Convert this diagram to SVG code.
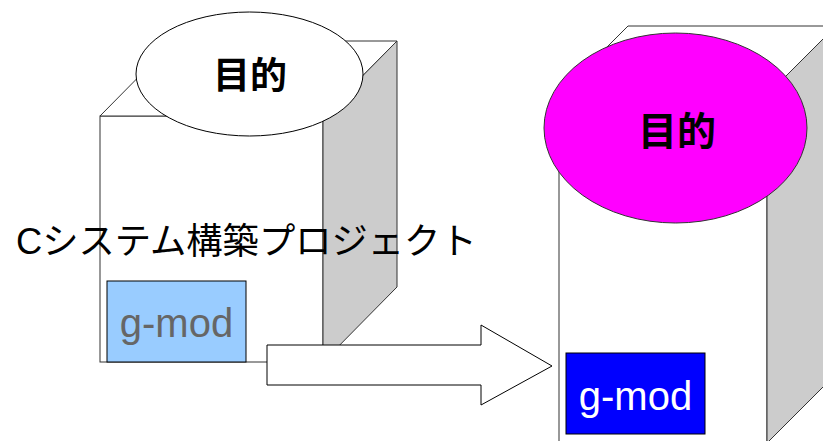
<svg xmlns="http://www.w3.org/2000/svg" width="823" height="441" viewBox="0 0 823 441">
<style>
.edge{stroke:#333;stroke-width:1;stroke-linejoin:miter}
.front{fill:#fff}
.side{fill:#ccc}
.top{fill:#fff}
.jp{font-family:"Liberation Sans","Noto Sans CJK JP",sans-serif;fill:#000}
.goal{font-weight:bold;text-anchor:middle}
.lbl{font-family:"Liberation Sans",Arial,sans-serif;font-size:40px;text-anchor:middle}
</style>
<rect width="823" height="441" fill="#fff"/>
<g id="cube-left">
<rect class="front edge" x="100" y="116" width="223" height="246"/>
<polygon class="top edge" points="100,116 174,41 397,41 323,116"/>
<polygon class="side edge" points="323,116 397,41 397,287 323,362"/>
</g>
<g id="cube-right">
<rect class="front edge" x="559" y="95" width="208" height="360"/>
<polygon class="top edge" points="559,95 628,26 850,26 767,95"/>
<polygon class="side edge" points="767,95 836,26 836,374 767,443"/>
</g>
<g id="goal-left">
<ellipse cx="249.5" cy="74" rx="113.5" ry="62" fill="#fff" stroke="#000" stroke-width="1"/>
<text class="jp goal" x="250" y="89" font-size="37">目的</text>
</g>
<g id="goal-right">
<ellipse cx="675.5" cy="128" rx="131.5" ry="95" fill="#f0f" stroke="#333" stroke-width="1"/>
<text class="jp goal" x="677" y="145" font-size="39">目的</text>
</g>
<g id="project-label">
<text class="jp" x="16" y="254" font-size="36.3">Cシステム構築プロジェクト</text>
</g>
<g id="gmod-left">
<rect x="107" y="281" width="139" height="81" fill="#99ccff" stroke="#000" stroke-width="1"/>
<text class="lbl" x="176.5" y="337" fill="#666">g-mod</text>
</g>
<g id="gmod-right">
<rect x="566" y="353" width="139" height="81" fill="#00f" stroke="#000" stroke-width="1"/>
<text class="lbl" x="635.5" y="410" fill="#fff">g-mod</text>
</g>
<g id="connectors">
<polygon points="267,345 481,345 481,325 552,366 481,405 481,385 267,385" fill="#fff" stroke="#000" stroke-width="1"/>
</g>
</svg>
